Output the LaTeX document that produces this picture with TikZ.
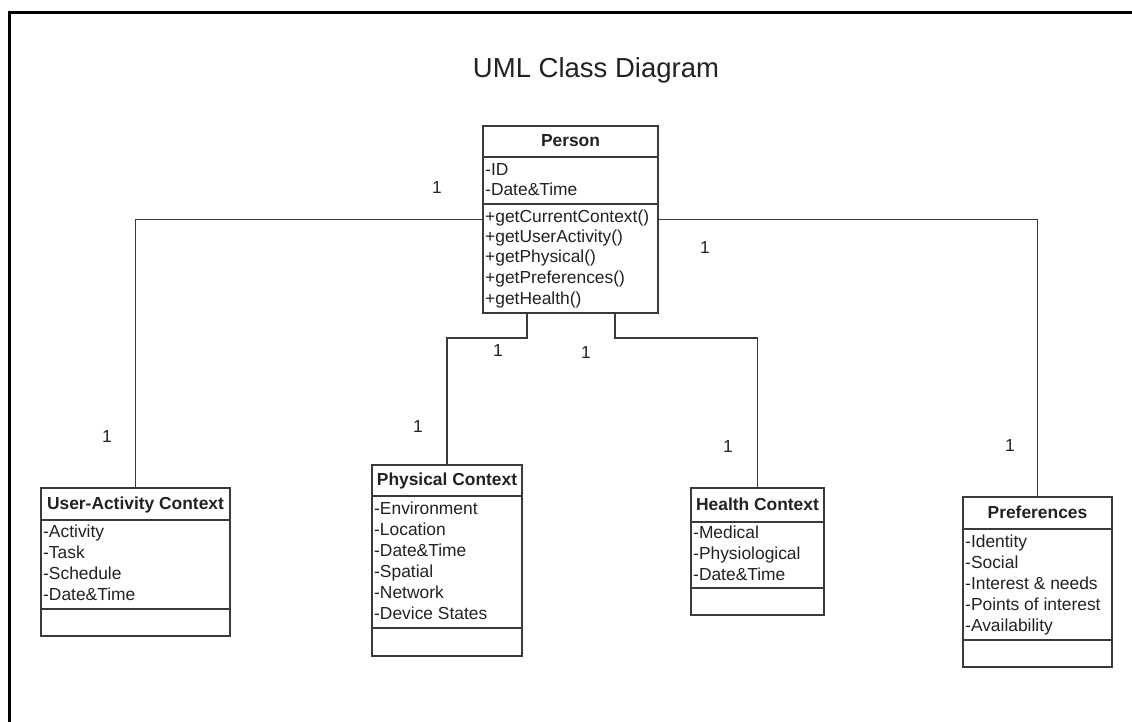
\documentclass[tikz,border=0pt]{standalone}
\usepackage{fontspec}
\setmainfont{Liberation Sans}
\begin{document}
\definecolor{linec}{HTML}{3A3A3A}
\definecolor{textc}{HTML}{222222}
\begin{tikzpicture}[x=1pt,y=-1pt,
  umlbox/.style={draw=linec, line width=1.9pt, fill=white, inner sep=0pt, rectangle},
  conn/.style={draw=linec, line width=1.9pt},
  divider/.style={draw=linec, line width=1.9pt},
  txt/.style={inner sep=0pt, text=textc, font=\fontsize{17.4pt}{20pt}\selectfont, text height=0.72em, text depth=0pt, yshift=-1.5pt},
  item/.style={txt, anchor=west},
  head/.style={txt, font=\fontsize{17.4pt}{20pt}\selectfont\bfseries},
  mult/.style={txt}]
\useasboundingbox (0,0) rectangle (1132,722);

% outer frame (top and left edges)
\draw[black, line width=3pt] (9,722) -- (9,13) -- (1132,13);

% title
\node[inner sep=0pt, text=textc, font=\fontsize{27.5pt}{31pt}\selectfont] (title) at (596,70) {UML Class Diagram};

% ---- Person ----
\node[umlbox, minimum width=175pt, minimum height=187pt] (person) at (570.5,219.5) {};
\draw[divider] (person.west |- 0,157) -- (person.east |- 0,157);
\draw[divider] (person.west |- 0,204) -- (person.east |- 0,204);
\node[head] (personT) at (570.5,141.5) {Person};
\node[item] (pa1) at (485,170) {-ID};
\node[item] (pa2) at (485,190) {-Date\&Time};
\node[item] (pm1) at (485,217) {+getCurrentContext()};
\node[item] (pm2) at (485,237) {+getUserActivity()};
\node[item] (pm3) at (485,257) {+getPhysical()};
\node[item] (pm4) at (485,278) {+getPreferences()};
\node[item] (pm5) at (485,299) {+getHealth()};

% ---- User-Activity Context ----
\node[umlbox, minimum width=189pt, minimum height=148pt] (ua) at (135.5,562) {};
\draw[divider] (ua.west |- 0,520) -- (ua.east |- 0,520);
\draw[divider] (ua.west |- 0,609) -- (ua.east |- 0,609);
\node[head] (uaT) at (135.5,504) {User-Activity Context};
\node[item] (ua1) at (43,532) {-Activity};
\node[item] (ua2) at (43,553) {-Task};
\node[item] (ua3) at (43,574) {-Schedule};
\node[item] (ua4) at (43,595) {-Date\&Time};

% ---- Physical Context ----
\node[umlbox, minimum width=150pt, minimum height=191pt] (phys) at (447,560.5) {};
\draw[divider] (phys.west |- 0,496) -- (phys.east |- 0,496);
\draw[divider] (phys.west |- 0,628) -- (phys.east |- 0,628);
\node[head] (physT) at (447,480.5) {Physical Context};
\node[item] (ph1) at (374,509) {-Environment};
\node[item] (ph2) at (374,530) {-Location};
\node[item] (ph3) at (374,551) {-Date\&Time};
\node[item] (ph4) at (374,572) {-Spatial};
\node[item] (ph5) at (374,593) {-Network};
\node[item] (ph6) at (374,614) {-Device States};

% ---- Health Context ----
\node[umlbox, minimum width=133pt, minimum height=127pt] (health) at (757.5,551.5) {};
\draw[divider] (health.west |- 0,522) -- (health.east |- 0,522);
\draw[divider] (health.west |- 0,588) -- (health.east |- 0,588);
\node[head] (healthT) at (757.5,505) {Health Context};
\node[item] (h1) at (693,533) {-Medical};
\node[item] (h2) at (693,554) {-Physiological};
\node[item] (h3) at (693,575) {-Date\&Time};

% ---- Preferences ----
\node[umlbox, minimum width=149pt, minimum height=170pt] (pref) at (1037.5,582) {};
\draw[divider] (pref.west |- 0,529) -- (pref.east |- 0,529);
\draw[divider] (pref.west |- 0,640) -- (pref.east |- 0,640);
\node[head] (prefT) at (1037.5,513) {Preferences};
\node[item] (pr1) at (965,542) {-Identity};
\node[item] (pr2) at (965,563) {-Social};
\node[item] (pr3) at (965,584) {-Interest \& needs};
\node[item] (pr4) at (965,605) {-Points of interest};
\node[item] (pr5) at (965,626) {-Availability};

% ---- associations ----
\draw[conn] (person.west) -| (ua.north);
\draw[conn] (person.east) -| (pref.north);
\draw[conn] ([xshift=-43.5pt]person.south) -- ++(0,24) -| (phys.north);
\draw[conn] ([xshift=44.5pt]person.south) -- ++(0,24) -| (health.north);

% multiplicities
\node[mult] (m1) at (437,188) {1};
\node[mult] (m2) at (107,437) {1};
\node[mult] (m3) at (705,248) {1};
\node[mult] (m4) at (1010,446) {1};
\node[mult] (m5) at (498,351) {1};
\node[mult] (m6) at (418,427) {1};
\node[mult] (m7) at (586,353) {1};
\node[mult] (m8) at (728,447) {1};
\end{tikzpicture}
\end{document}
